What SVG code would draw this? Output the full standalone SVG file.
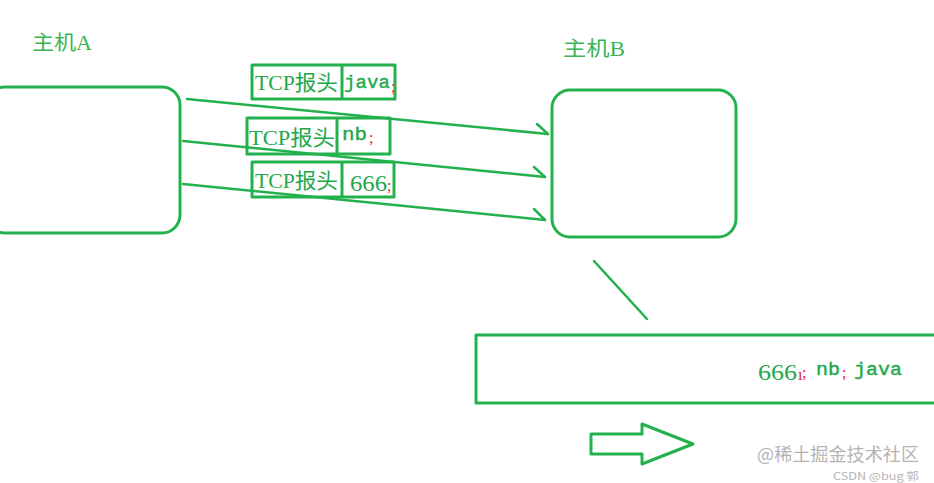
<svg xmlns="http://www.w3.org/2000/svg" width="934" height="483" viewBox="0 0 934 483">
<style>
.g{fill:none;stroke:#22b14c;stroke-width:3;stroke-linejoin:round}
.c{fill:none;stroke:#22b14c;stroke-width:2.5;stroke-linecap:round}
.t{fill:#22a84a;font-family:"Liberation Serif","Noto Sans CJK SC",serif}
.m{fill:#22a84a;font-family:"Liberation Mono",monospace;stroke:#22a84a;stroke-width:0.4}
.r{fill:#ed1c24;font-family:"Liberation Serif",serif;font-size:16px}
.lab{fill:#3cb454;font-family:"Liberation Serif","Noto Sans CJK SC",serif;font-size:20px}
.wm{fill:#b4b4b4;font-family:"Noto Sans CJK SC","Liberation Sans",sans-serif}
</style>
<rect width="934" height="483" fill="#ffffff"/>
<g id="hostA">
<rect class="g" x="-14" y="87" width="194" height="146" rx="18"/>
<text class="lab" x="32" y="50" textLength="60" lengthAdjust="spacingAndGlyphs">主机A</text>
</g>
<g id="hostB">
<rect class="g" x="552" y="90" width="184" height="147" rx="18"/>
<text class="lab" x="563" y="56" textLength="62" lengthAdjust="spacingAndGlyphs">主机B</text>
</g>
<g id="seg1">
<rect class="g" x="252" y="65" width="143" height="34"/>
<line class="g" x1="342" y1="65" x2="342" y2="99"/>
<text class="t" x="255" y="90" font-size="21" textLength="83" lengthAdjust="spacingAndGlyphs">TCP报头</text>
<text class="m" x="344" y="88" font-size="19" textLength="46" lengthAdjust="spacingAndGlyphs">java</text>
<text class="r" x="391" y="92">;</text>
</g>
<g id="seg2">
<rect class="g" x="247" y="118" width="143" height="36"/>
<line class="g" x1="337" y1="118" x2="337" y2="154"/>
<text class="t" x="249" y="145" font-size="21" textLength="86" lengthAdjust="spacingAndGlyphs">TCP报头</text>
<text class="m" x="342" y="140" font-size="19" textLength="25" lengthAdjust="spacingAndGlyphs">nb</text>
<text class="r" x="369" y="143">;</text>
</g>
<g id="seg3">
<rect class="g" x="252" y="162" width="142" height="35"/>
<line class="g" x1="342" y1="162" x2="342" y2="197"/>
<text class="t" x="255" y="188" font-size="21" textLength="83" lengthAdjust="spacingAndGlyphs">TCP报头</text>
<text class="t" x="350" y="191" font-size="24" textLength="37" lengthAdjust="spacingAndGlyphs">666</text>
<text class="r" x="387" y="191">;</text>
</g>
<g id="buffer">
<rect class="g" x="476" y="335" width="470" height="68"/>
<text class="t" x="758" y="380" font-size="24" textLength="39" lengthAdjust="spacingAndGlyphs">666</text>
<text class="r" x="798" y="380">ı</text>
<text class="r" x="802" y="378">;</text>
<text class="m" x="816" y="375" font-size="19" textLength="24" lengthAdjust="spacingAndGlyphs">nb</text>
<text class="r" x="842" y="378">;</text>
<text class="m" x="854" y="375" font-size="19" textLength="48" lengthAdjust="spacingAndGlyphs">java</text>
</g>
<g id="bigArrow">
<polygon class="g" points="591,434 642,434 642,424 693,444 642,464 642,454 591,454"/>
</g>
<g id="connectors">
<polyline class="c" points="187,99 548,134"/>
<polyline class="c" points="537,124 548,134"/>
<polyline class="c" points="183,141 545,177"/>
<polyline class="c" points="534,167 545,177"/>
<polyline class="c" points="183,184 545,220"/>
<polyline class="c" points="534,209 545,220"/>
<line class="c" x1="594" y1="261" x2="647" y2="319"/>
</g>
<g id="watermark">
<text class="wm" x="757" y="461" font-size="18" textLength="162" lengthAdjust="spacingAndGlyphs">@稀土掘金技术社区</text>
<text class="wm" x="833" y="480" font-size="10" fill="#a0a0a0" textLength="86" lengthAdjust="spacingAndGlyphs">CSDN @bug 郭</text>
</g>
</svg>
